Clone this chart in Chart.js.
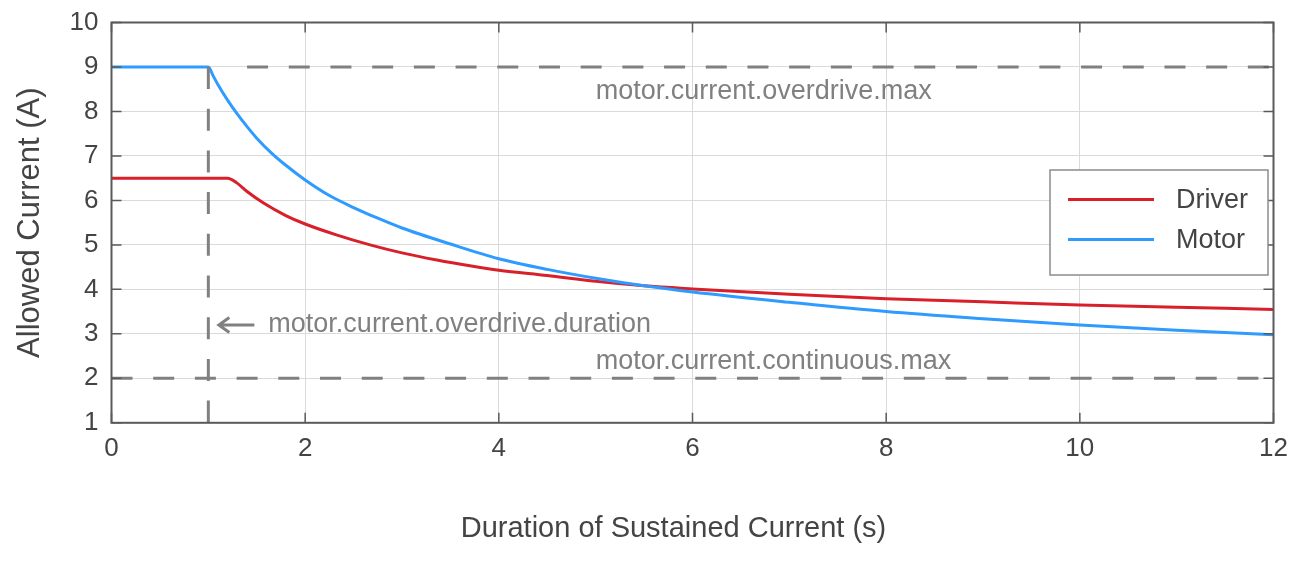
<!DOCTYPE html>
<html>
<head>
<meta charset="utf-8">
<script src="https://cdn.jsdelivr.net/npm/chart.js@4/dist/chart.umd.min.js"></script>
<style>
html,body{margin:0;padding:0;background:#ffffff;}
canvas{display:block;}
</style>
</head>
<body>
<canvas id="c" width="1302" height="570"></canvas>
<script>
// ---- data ----
const motorDurations = [0, 1, 1.05, 1.1, 1.2, 1.3, 1.4, 1.5, 1.65, 1.8, 2, 2.25, 2.5, 2.75, 3, 3.5, 4, 4.5, 5, 5.5, 6, 7, 8, 9, 10, 11, 12];
const motorCurrent   = [9, 9, 8.8, 8.6, 8.25, 7.94, 7.66, 7.4, 7.07, 6.79, 6.46, 6.11, 5.84, 5.6, 5.38, 5.02, 4.69, 4.45, 4.25, 4.08, 3.94, 3.71, 3.5, 3.34, 3.2, 3.08, 2.98];

const driverDurations = [0, 1.2, 1.29, 1.4, 1.57, 1.8, 2, 2.33, 2.67, 3, 3.36, 3.7, 4, 4.5, 5, 5.5, 6, 7, 8, 9, 10, 11, 12];
const driverCurrent   = [6.5, 6.5, 6.4, 6.2, 5.94, 5.66, 5.47, 5.22, 5.0, 4.82, 4.66, 4.53, 4.43, 4.31, 4.18, 4.08, 4.01, 3.89, 3.79, 3.72, 3.65, 3.6, 3.55];

const xTicks = [0, 2, 4, 6, 8, 10, 12];
const yTicks = [1, 2, 3, 4, 5, 6, 7, 8, 9, 10];

const overdriveMax = 9;          // A
const continuousMax = 2;         // A
const overdriveDuration = 1;     // s
const overdriveMaxLineX = [1.4, 12];
const continuousMaxLineX = [0, 12];
const durationLineY = [9, 1];

const seriesNames = ['Driver', 'Motor'];
const labelOverdriveMax = 'motor.current.overdrive.max';
const labelContinuousMax = 'motor.current.continuous.max';
const labelDuration = 'motor.current.overdrive.duration';
const xTitle = 'Duration of Sustained Current (s)';
const yTitle = 'Allowed Current (A)';

// ---- styling ----
const FONT = '"Liberation Sans", Arial, Helvetica, sans-serif';
const RED = '#d7202a';
const BLUE = '#2f9bff';
const REF = '#808080';
const TEXT = '#444444';
const AXIS = '#5a5a5a';

const toPts = (xs, ys) => xs.map((v, i) => ({x: v, y: ys[i]}));

const datasets = [
  {label: seriesNames[0], data: toPts(driverDurations, driverCurrent), borderColor: RED, borderWidth: 3,
   pointRadius: 0, cubicInterpolationMode: 'monotone', order: 2, fill: false},
  {label: seriesNames[1], data: toPts(motorDurations, motorCurrent), borderColor: BLUE, borderWidth: 3,
   pointRadius: 0, cubicInterpolationMode: 'monotone', order: 1, fill: false},
  {label: 'overdriveMax', data: overdriveMaxLineX.map(v => ({x: v, y: overdriveMax})), borderColor: REF,
   borderWidth: 3, borderDash: [21, 20.7], pointRadius: 0, tension: 0, order: 0},
  {label: 'continuousMax', data: continuousMaxLineX.map(v => ({x: v, y: continuousMax})), borderColor: REF,
   borderWidth: 3, borderDash: [21, 20.7], pointRadius: 0, tension: 0, order: 0},
  {label: 'overdriveDuration', data: durationLineY.map(v => ({x: overdriveDuration, y: v})), borderColor: REF,
   borderWidth: 3, borderDash: [22, 19.7], pointRadius: 0, tension: 0, order: 0}
];

const framePlugin = {
  id: 'frame',
  afterDatasetsDraw(chart) {
    const {ctx, chartArea: a, scales: {x, y}} = chart;
    ctx.save();

    // annotation texts
    ctx.fillStyle = REF;
    ctx.font = '27px ' + FONT;
    ctx.textAlign = 'left';
    ctx.textBaseline = 'alphabetic';
    ctx.fillText(labelOverdriveMax, x.getPixelForValue(5), y.getPixelForValue(overdriveMax) + 32.5);
    ctx.fillText(labelContinuousMax, x.getPixelForValue(5), y.getPixelForValue(continuousMax) - 9);
    const xd = x.getPixelForValue(overdriveDuration);
    const yd = y.getPixelForValue(3.2);
    ctx.fillText(labelDuration, xd + 60, yd + 7.5);
    // arrow
    ctx.strokeStyle = REF;
    ctx.lineWidth = 3;
    ctx.lineCap = 'butt';
    ctx.beginPath();
    ctx.moveTo(xd + 10, yd);
    ctx.lineTo(xd + 46, yd);
    ctx.moveTo(xd + 21, yd - 7.5);
    ctx.lineTo(xd + 10.5, yd);
    ctx.lineTo(xd + 21, yd + 7.5);
    ctx.stroke();

    // box
    ctx.strokeStyle = AXIS;
    ctx.lineWidth = 2;
    ctx.strokeRect(a.left, a.top, a.right - a.left, a.bottom - a.top);
    // inward ticks
    ctx.lineWidth = 1.5;
    ctx.beginPath();
    xTicks.forEach(v => {
      const px = x.getPixelForValue(v);
      ctx.moveTo(px, a.bottom); ctx.lineTo(px, a.bottom - 10);
      ctx.moveTo(px, a.top); ctx.lineTo(px, a.top + 10);
    });
    yTicks.forEach(v => {
      const py = y.getPixelForValue(v);
      ctx.moveTo(a.left, py); ctx.lineTo(a.left + 10, py);
      ctx.moveTo(a.right, py); ctx.lineTo(a.right - 10, py);
    });
    ctx.stroke();

    // legend
    const lr = a.right - 5.5, lw = 218, lt = a.top + 147.5, lh = 105;
    const ll = lr - lw;
    ctx.fillStyle = '#ffffff';
    ctx.fillRect(ll, lt, lw, lh);
    ctx.strokeStyle = '#8c8c8c';
    ctx.lineWidth = 1.5;
    ctx.strokeRect(ll, lt, lw, lh);
    ctx.font = '27px ' + FONT;
    ctx.textBaseline = 'middle';
    [datasets[0], datasets[1]].forEach((ds, i) => {
      const cy = lt + 29.5 + i * 40;
      ctx.strokeStyle = ds.borderColor;
      ctx.lineWidth = 3;
      ctx.beginPath();
      ctx.moveTo(ll + 18, cy); ctx.lineTo(ll + 104, cy);
      ctx.stroke();
      ctx.fillStyle = TEXT;
      ctx.fillText(ds.label, ll + 126, cy + 1);
    });

    // x axis title
    ctx.fillStyle = TEXT;
    ctx.font = '29px ' + FONT;
    ctx.textAlign = 'center';
    ctx.textBaseline = 'alphabetic';
    ctx.fillText(xTitle, 673.5, a.bottom + 114);

    ctx.restore();
  }
};

new Chart(document.getElementById('c'), {
  type: 'line',
  data: {datasets},
  options: {
    responsive: false,
    animation: false,
    devicePixelRatio: 1,
    layout: {padding: {left: 0, top: 22.5, right: 28.5, bottom: 0}},
    plugins: {legend: {display: false}, tooltip: {enabled: false}},
    scales: {
      x: {
        type: 'linear', min: 0, max: 12,
        afterBuildTicks: s => { s.ticks = xTicks.map(v => ({value: v})); },
        afterFit: s => { s.height = 147.2; s.paddingLeft = 0; s.paddingRight = 0; },
        grid: {color: '#dadada', lineWidth: 1, drawTicks: false},
        border: {display: false},
        ticks: {color: TEXT, font: {family: FONT, size: 26}, padding: 10, maxRotation: 0, autoSkip: false}
      },
      y: {
        type: 'linear', min: 1, max: 10,
        afterBuildTicks: s => { s.ticks = yTicks.map(v => ({value: v})); },
        afterFit: s => { s.width = 111.5; s.paddingTop = 0; s.paddingBottom = 0; },
        grid: {color: '#dadada', lineWidth: 1, drawTicks: false},
        border: {display: false},
        ticks: {color: TEXT, font: {family: FONT, size: 26}, padding: 13, autoSkip: false},
        title: {display: true, text: yTitle, color: TEXT, font: {family: FONT, size: 31}, padding: {top: 12, bottom: 0}}
      }
    }
  },
  plugins: [framePlugin]
});
</script>
</body>
</html>
